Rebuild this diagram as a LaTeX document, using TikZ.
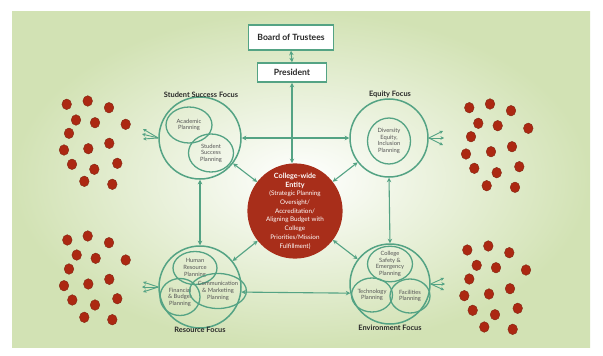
\documentclass[tikz,border=0pt]{standalone}
\usepackage{fontspec}
\setmainfont{Lato}
\usetikzlibrary{arrows.meta,shapes.geometric}
\definecolor{ring}{RGB}{84,163,132}
\definecolor{corered}{RGB}{168,46,26}
\definecolor{dotred}{RGB}{172,40,18}
\definecolor{dotedge}{RGB}{130,40,20}
\definecolor{panel}{RGB}{210,226,180}
\definecolor{ink}{RGB}{40,40,40}
\definecolor{soft}{RGB}{85,85,85}
\tikzset{
  arr/.style={draw=ring, line width=1.1pt, {Stealth[length=4.5pt,width=4.5pt]}-{Stealth[length=4.5pt,width=4.5pt]}},
  fanline/.style={draw=ring, line width=0.9pt, -{Stealth[length=3.5pt,width=3.5pt]}},
  focus/.style={circle, draw=ring, line width=1.5pt, inner sep=0pt, minimum size=#1},
  part/.style={ellipse, draw=ring, line width=1.3pt, inner sep=0pt, align=center, text=soft,
    font=\fontsize{5.8}{6.6}\selectfont},
  title/.style={font=\bfseries\fontsize{7.4}{8.5}\selectfont, text=ink},
  topbox/.style={draw=ring, line width=1.6pt, fill=white, inner sep=0pt, text=ink,
    font=\bfseries\fontsize{8.6}{10}\selectfont},
  dot/.style={fill=dotred, draw=dotedge, line width=0.4pt}
}
\begin{document}
\begin{tikzpicture}[x=1pt,y=-1pt]
\useasboundingbox (0,0) rectangle (603,356);
\fill[white] (0,0) rectangle (603,356);
% soft green panel, pale in the middle
\shade[inner color=white, outer color=panel] (12,11) rectangle (590,347);

% governance boxes
\node[topbox, minimum width=85pt, minimum height=25pt] (board) at (291,37.5) {Board of Trustees};
\node[topbox, minimum width=69pt, minimum height=19pt] (pres) at (292,72.5) {President};

% the four focus areas
\node[focus=82pt] (ssf) at (200,138) {};
\node[focus=78pt] (eqf) at (389,138) {};
\node[focus=82pt] (rsf) at (200,287) {};
\node[focus=80pt] (envf) at (390,284) {};

\node[title] (ssft) at (201,95) {Student Success Focus};
\node[title] (eqft) at (390,94) {Equity Focus};
\node[title] (rsft) at (200,330) {Resource Focus};
\node[title] (envft) at (390,328) {Environment Focus};

% planning areas inside each focus
\node[part, minimum width=46pt, minimum height=36pt] (acad) at (189,125) {Academic\\Planning};
\node[part, minimum width=45pt, minimum height=38pt] (ssp) at (211,153) {Student\\Success\\Planning};
\node[part, minimum width=43pt, minimum height=46pt] (div) at (389,141) {Diversity\\Equity,\\Inclusion\\Planning};
\node[part, minimum width=44pt, minimum height=33pt] (hr) at (195,268) {Human\\Resource\\Planning};
\node[part, minimum width=40pt, minimum height=37pt] (fin) at (180,297) {Financial\\\& Budget\\Planning};
\node[part, minimum width=44pt, minimum height=35pt] (com) at (218,291) {Communication\\\& Marketing\\Planning};
\node[part, minimum width=45pt, minimum height=34pt] (safe) at (390,264) {College\\Safety \&\\Emergency\\Planning};
\node[part, minimum width=39pt, minimum height=34pt] (tech) at (372,295) {Technology\\Planning};
\node[part, minimum width=40pt, minimum height=34pt] (fac) at (410,296) {Facilities\\Planning};

% college-wide entity
\node[circle, fill=corered, inner sep=0pt, minimum size=86pt, align=center, text=white,
      font=\fontsize{6.3}{8.7}\selectfont] (core) at (295,211)
  {{\bfseries\fontsize{7.2}{8.7}\selectfont College-wide}\\{\bfseries\fontsize{7.2}{8.7}\selectfont Entity}\\(Strategic Planning\\Oversight/\\Accreditation/\\Aligning Budget with\\College\\Priorities/Mission\\Fulfillment)};

% connectors
\draw[arr] (board.south) -- (pres.north);
\draw[arr] (pres.south) -- (core.north -| pres.south);
\draw[arr] (ssf.east) -- (eqf.west);
\draw[arr] (ssf.south) -- (rsf.north);
\draw[arr] (eqf.south) -- (envf.north);
\draw[arr] (rsf.-7) -- (envf.193);
\draw[arr] (core) -- (ssf);
\draw[arr] (core) -- (eqf);
\draw[arr] (core) -- (rsf);
\draw[arr] (core) -- (envf);

% outreach fans toward the communities
\coordinate (a1) at (143,129); \coordinate (a2) at (142,134); \coordinate (a3) at (143,139);
\draw[fanline] (ssf.west) -- (a1); \draw[fanline] (ssf.west) -- (a2); \draw[fanline] (ssf.west) -- (a3);
\coordinate (b1) at (443,131); \coordinate (b2) at (444,138); \coordinate (b3) at (443,145);
\draw[fanline] (eqf.east) -- (b1); \draw[fanline] (eqf.east) -- (b2); \draw[fanline] (eqf.east) -- (b3);
\coordinate (c1) at (143,282); \coordinate (c2) at (142,287); \coordinate (c3) at (143,292);
\draw[fanline] (rsf.west) -- (c1); \draw[fanline] (rsf.west) -- (c2); \draw[fanline] (rsf.west) -- (c3);
\coordinate (d1) at (444,278); \coordinate (d2) at (445,284); \coordinate (d3) at (444,290);
\draw[fanline] (envf.east) -- (d1); \draw[fanline] (envf.east) -- (d2); \draw[fanline] (envf.east) -- (d3);

% community dots
\foreach \p in {(66.7,104.3),(87.7,101),(109,107.7),(76,120),(95,122.7),(125.7,124.3),(69,133.3),(64,150),(88.3,148.7),(109.3,143.3),(72,164.3),(94.3,169.3),(117.3,163.3),(84.3,181.3),(112.3,184.3),
  (67.3,240),(87.7,236),(109,242.7),(76.7,255),(95.7,258.3),(125.7,260),(69,269),(64,285.7),(88.3,284),(109.3,279.3),(72.3,300),(95,305),(117.3,298.7),(84.3,317.3),(112.3,319.7),
  (469.3,107.7),(490,104),(511,110.7),(478.3,123.3),(497.7,125.7),(528.3,128.3),(471,136.7),(466,154),(491,151.7),(512,146.7),(474.3,168.3),(496.7,172.7),(519.3,166.7),(486.7,185.7),(515,187.3),
  (467.3,250),(488.3,246),(509.3,252.7),(476.7,265.3),(496,267.7),(526,270),(469.3,279),(464.3,295.7),(489,294),(510,288.7),(472.7,310.3),(495,314.7),(517.7,308.3),(484.3,327),(512.7,329.3)}
  \path[dot] \p ellipse (4.8pt and 5.3pt);
\end{tikzpicture}
\end{document}
